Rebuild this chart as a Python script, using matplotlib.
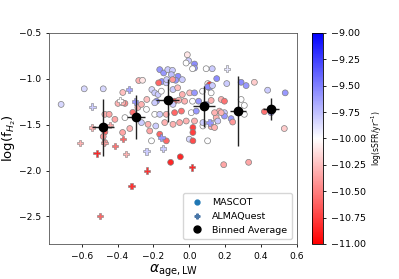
import numpy as np
import matplotlib
matplotlib.use('Agg')
import matplotlib.pyplot as plt
from matplotlib.lines import Line2D

# MASCOT galaxies: alpha_age,LW, log(fH2), log(sSFR)
mascot_x = [-0.715, -0.586, -0.48, -0.371, -0.359, -0.282, -0.398, -0.471, -0.447, -0.415,
            -0.359, -0.372, -0.471, -0.48, -0.372, -0.332, -0.471, -0.287, -0.315, -0.237,
            -0.267, -0.209, -0.193, -0.174, -0.156, -0.154, -0.171, -0.128, -0.126, -0.165,
            -0.143, -0.12, -0.094, -0.10, -0.063, -0.039, -0.076, -0.093, -0.011, -0.004,
            -0.018, 0.029, 0.029, 0.018, 0.094, 0.128, 0.153, 0.103, 0.113, 0.209,
            -0.261, -0.091, -0.065, -0.039, 0.002, 0.029, 0.113, 0.122, 0.178, 0.196,
            -0.183, -0.082, -0.059, -0.026, 0.018, 0.052, 0.289, 0.317, 0.363, 0.437,
            0.535, 0.289, 0.102, 0.129, 0.074, 0.122, 0.094, 0.307, 0.419, 0.168,
            0.196, 0.233, 0.242, 0.15, 0.131, 0.122, 0.076, 0.141, 0.53, 0.456,
            0.192, 0.331, 0.102, 0.196, -0.193, -0.091, -0.239, -0.193, -0.165, -0.128,
            -0.082, -0.044, 0.011, 0.039, 0.141, -0.267, -0.23, -0.187, -0.137, -0.091,
            -0.054, -0.017, 0.02, 0.02, 0.029, 0.076, 0.159, -0.221, -0.165, -0.128,
            -0.211, 0.0, 0.02, -0.05, -0.104, 0.307, 0.178]
mascot_y = [-1.279, -1.109, -1.109, -1.149, -1.268, -1.019, -1.268, -1.387, -1.387, -1.442,
            -1.423, -1.261, -1.579, -1.629, -1.585, -1.542, -1.694, -1.312, -1.366, -1.225,
            -1.279, -1.117, -1.153, -1.171, -1.135, -1.03, -1.044, -1.044, -1.009, -0.90,
            -0.936, -0.90, -0.908, -0.955, -0.973, -1.009, -1.016, -1.009, -0.738, -0.803,
            -0.828, -0.839, -0.882, -0.89, -0.89, -0.89, -0.998, -1.052, -1.063, -1.052,
            -1.016, -1.117, -1.098, -1.171, -1.153, -1.153, -1.098, -1.153, -1.225, -1.244,
            -1.244, -1.244, -1.233, -1.244, -1.244, -1.244, -1.038, -1.074, -1.038, -1.124,
            -1.153, -1.225, -1.088, -1.074, -1.135, -1.236, -1.279, -1.29, -1.358, -1.352,
            -1.369, -1.434, -1.471, -1.423, -1.485, -1.521, -1.514, -1.531, -1.542, -1.369,
            -1.936, -1.91, -1.676, -1.406, -1.261, -1.279, -1.333, -1.387, -1.387, -1.387,
            -1.369, -1.352, -1.369, -1.352, -1.369, -1.477, -1.496, -1.514, -1.477, -1.496,
            -1.477, -1.46, -1.531, -1.585, -1.46, -1.477, -1.46, -1.568, -1.604, -1.676,
            -1.676, -1.658, -1.676, -1.85, -1.91, -1.387, -1.369]
mascot_ssfr = [-9.85, -9.85, -9.85, -10.25, -10.45, -10.3, -10.3, -10.3, -10.35, -10.35,
               -10.0, -10.3, -10.6, -10.4, -10.35, -10.3, -10.4, -10.3, -10.55, -10.25,
               -10.3, -9.85, -9.8, -9.8, -10.0, -9.55, -10.6, -9.8, -9.8, -9.6,
               -9.6, -9.8, -9.8, -9.75, -9.55, -9.8, -9.6, -10.4, -10.1, -9.8,
               -10.0, -9.55, -9.6, -10.0, -10.0, -9.8, -9.55, -10.05, -10.8, -9.8,
               -10.1, -9.8, -10.25, -10.3, -10.25, -9.6, -9.55, -10.0, -10.3, -10.55,
               -9.55, -10.7, -10.3, -10.3, -10.0, -9.6, -9.55, -9.6, -10.2, -9.8,
               -9.6, -10.0, -9.55, -9.8, -10.0, -10.3, -9.6, -10.0, -10.55, -10.3,
               -9.8, -9.6, -10.4, -10.3, -10.0, -10.3, -10.0, -10.3, -10.2, -9.6,
               -10.35, -10.35, -10.0, -9.6, -9.8, -9.8, -10.0, -10.0, -9.8, -10.3,
               -10.6, -10.55, -10.0, -9.6, -10.3, -9.8, -10.3, -9.8, -10.3, -10.3,
               -10.35, -10.3, -10.75, -10.75, -10.3, -9.8, -9.8, -10.35, -10.6, -10.6,
               -10.0, -9.85, -10.7, -10.85, -10.85, -10.0, -10.3]

# ALMAQuest galaxies
almaq_x = [-0.337, -0.387, -0.541, -0.304, -0.544, -0.443, -0.609, -0.474, -0.415, -0.354,
           -0.517, -0.37, -0.239, -0.147, -0.156, 0.113, 0.211, -0.236, 0.015, -0.322, -0.498]
almaq_y = [-1.117, -1.236, -1.304, -1.247, -1.531, -1.506, -1.701, -1.701, -1.73, -1.82,
           -1.813, -1.658, -1.791, -1.759, -1.64, -1.477, -0.89, -2.001, -1.964, -2.17, -2.495]
almaq_ssfr = [-9.65, -10.0, -9.8, -9.6, -10.3, -10.35, -10.3, -10.35, -10.55, -10.3,
              -10.85, -10.6, -9.8, -9.8, -9.6, -9.6, -9.9, -10.8, -10.85, -10.8, -10.6]

# Binned averages
bin_x = [-0.48, -0.298, -0.12, 0.081, 0.274, 0.458]
bin_y = [-1.53, -1.42, -1.236, -1.30, -1.35, -1.33]
bin_xerr = [0.06, 0.05, 0.065, 0.06, 0.045, 0.045]
bin_yerr = [0.31, 0.24, 0.23, 0.22, 0.38, 0.12]

fig = plt.figure(figsize=(3.99, 2.79), dpi=100)
ax = fig.add_axes([0.124, 0.1255, 0.62, 0.7565])
cax = fig.add_axes([0.782, 0.1255, 0.0276, 0.7565])

sc = ax.scatter(mascot_x, mascot_y, c=mascot_ssfr, cmap='bwr_r', vmin=-11, vmax=-9,
                s=18, edgecolors='gray', linewidths=0.5, zorder=2)
ax.scatter(almaq_x, almaq_y, c=almaq_ssfr, cmap='bwr_r', vmin=-11, vmax=-9,
           marker='P', s=22, edgecolors='gray', linewidths=0.4, zorder=2)
ax.errorbar(bin_x, bin_y, xerr=bin_xerr, yerr=bin_yerr, fmt='o', color='k',
            ecolor='#222222', elinewidth=1, markersize=6, zorder=3)

ax.set_xlim(-0.78, 0.6)
ax.set_ylim(-2.8, -0.5)
ax.set_xticks([-0.6, -0.4, -0.2, 0.0, 0.2, 0.4, 0.6])
ax.set_yticks([-2.5, -2.0, -1.5, -1.0, -0.5])
ax.tick_params(labelsize=6.6, length=2.5, width=0.6)
for sp in ax.spines.values():
    sp.set_linewidth(0.6)
    sp.set_color('#555555')
ax.set_xlabel(r'$\alpha_{\rm age,LW}$', fontsize=10, labelpad=1)
ax.set_ylabel(r'log(f$_{H_2}$)', fontsize=9.5, labelpad=1)

handles = [Line2D([], [], marker='o', ls='', color='tab:blue', markersize=3.5),
           Line2D([], [], marker='P', ls='', color='#4a77a8', markersize=3.5),
           Line2D([], [], marker='o', ls='', color='k', markersize=5)]
ax.legend(handles, ['MASCOT', 'ALMAQuest', 'Binned Average'], loc='lower right',
          fontsize=6.8, handletextpad=0.6, borderpad=0.5, labelspacing=0.5)

cb = fig.colorbar(sc, cax=cax)
cb.set_ticks([-11, -10.75, -10.5, -10.25, -10, -9.75, -9.5, -9.25, -9])
cb.ax.tick_params(labelsize=6.8, length=2.5, width=0.6)
cb.outline.set_linewidth(0.6)
cb.set_label(r'log(sSFR/yr$^{-1}$)', fontsize=5.5, labelpad=2)

fig.savefig('out.png', dpi=100)
